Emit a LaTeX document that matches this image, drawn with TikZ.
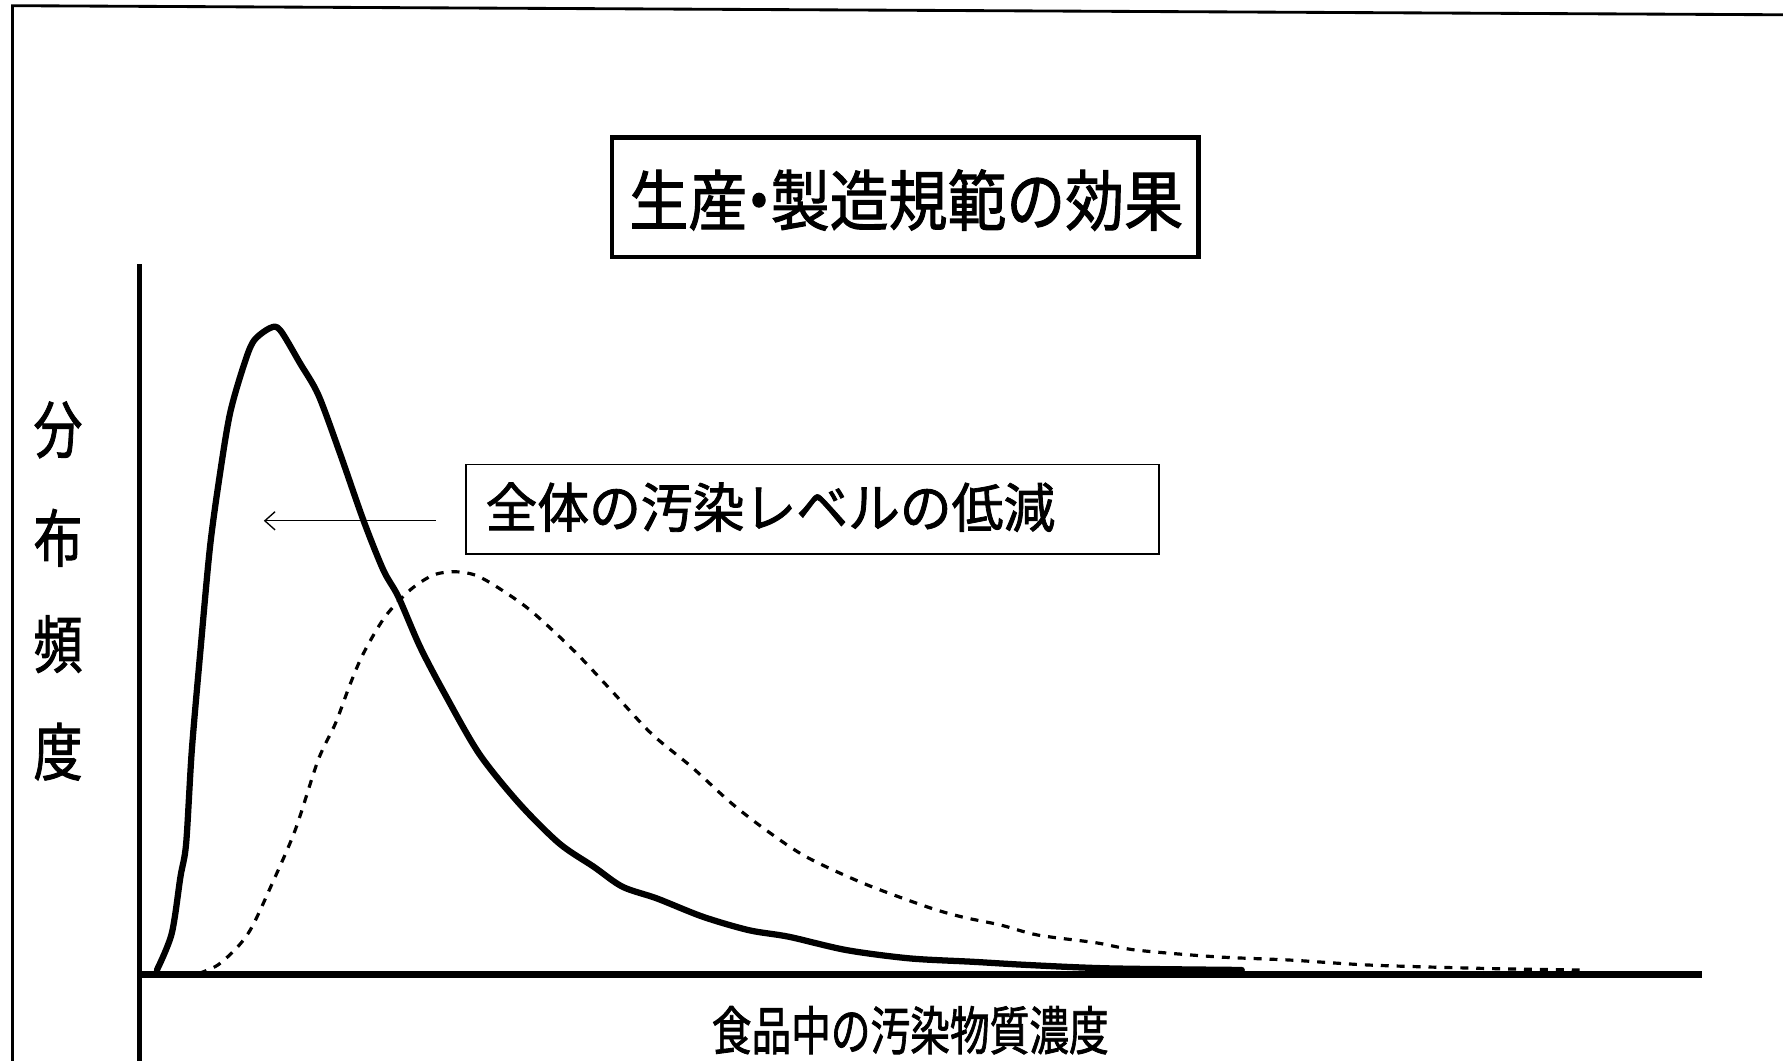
\documentclass[tikz,border=0pt]{standalone}
\usepackage{graphicx}
\usepackage{fontspec}
\setmainfont{Noto Sans CJK JP}[AutoFakeBold=1.6]
\usetikzlibrary{arrows.meta}
\newcommand{\fitw}[2]{\resizebox{#1}{\height}{#2}}
\begin{document}
\begin{tikzpicture}[x=1pt,y=-1pt,
  every node/.style={inner sep=0pt, outer sep=0pt},
  titlebox/.style={draw, line width=4pt, minimum width=516pt, minimum height=105pt},
  notebox/.style={draw, line width=1.5pt, minimum width=610pt, minimum height=79pt},
  framel/.style={line width=2.5pt},
  solidcurve/.style={line width=5.5pt, line cap=round, line join=round},
  dashcurve/.style={line width=2.8pt, dash pattern=on 7pt off 7pt},
  ylab/.style={font=\fontsize{55pt}{60pt}\selectfont\bfseries}
]
\useasboundingbox (0,0) rectangle (1568,933);
\fill[white] (0,0) rectangle (1568,933);
% frame
\coordinate (fbl) at (11,933);
\coordinate (ftl) at (11,5);
\coordinate (ftr) at (1568,13);
\draw[framel] (fbl) -- (ftl) -- (ftr);
% title
\node[titlebox] (title) at (796,173.5) {};
\node[font=\fontsize{58pt}{62pt}\selectfont\bfseries] (titletext) at (797,176) {\fitw{487pt}{生産\makebox[0.4em][c]{・}製造規範の効果}};
% axes
\coordinate (o) at (123,857);
\coordinate (ytop) at (123,232);
\coordinate (ybot) at (123,933);
\coordinate (xend) at (1497,857);
\draw[line width=4.5pt] (ybot) -- (ytop);
\draw[line width=6pt] (o) -- (xend);
% y label
\node[ylab] (y1) at (51,378) {\fitw{43pt}{分}};
\node[ylab] (y2) at (51,473) {\fitw{43pt}{布}};
\node[ylab] (y3) at (51,566.5) {\fitw{43pt}{頻}};
\node[ylab] (y4) at (51,661) {\fitw{43pt}{度}};
% x label
\node[font=\fontsize{46pt}{50pt}\selectfont\bfseries] (xlab) at (800.5,906) {\fitw{349pt}{食品中の汚染物質濃度}};
% annotation
\node[notebox] (note) at (714.5,448) {};
\node[font=\fontsize{47pt}{50pt}\selectfont\bfseries] (notetext) at (677.5,446) {\fitw{501pt}{全体の汚染レベルの低減}};
\coordinate (arrs) at (383,458);
\coordinate (arre) at (232,458);
\draw[line width=1.2pt, -{Straight Barb[length=9pt,width=16pt,line width=1.2pt]}] (arrs) -- (arre);
% dashed curve
\draw[dashcurve] plot[smooth, tension=0.5] coordinates {
(175,856) (191.5,848.7) (209.1,832.6) (221.7,815) (239.4,776.9) (259.6,730) (279.8,668.4) (295,636.2) (307.8,602) (319.6,574.6) (338.6,542.4) (360.6,518.9) (381.1,505.7) (400.2,502.8) (417.8,505.7) (436.8,516) (466.1,536.5) (504.2,571.7) (537.3,606.9) (572.7,645) (608,674.3) (643.4,706.5) (673.7,730) (709,753.5) (759.5,776.9) (815,797.4) (845.3,806.2) (880,813.5) (912.7,822.3) (964,829.1) (999.1,835.5) (1069.2,841.4) (1134.6,844.3) (1204.7,848.7) (1302.9,851.6) (1391.6,853.1)};
% solid curve
\draw[solidcurve] plot[smooth, tension=0.5] coordinates {
(138,853) (151,821) (158.7,771) (163.7,741.7) (168.7,659.6) (176.3,571.7) (184.7,480.8) (193.5,416.3) (202.3,363.5) (214,322.5) (223,300) (237.5,288.5) (246.3,290.2) (263.9,319.5) (280,347.4) (299,398.7) (319.5,457.3) (337.1,501.3) (350.3,524.8) (369.4,568.8) (390.9,609.8) (421.2,662.6) (456.5,706.5) (491.8,741.7) (522.1,762.2) (547.4,779.8) (577.7,790.1) (618.1,806.2) (658.5,818) (693.8,823.8) (744.3,835.5) (799.8,842.8) (855.4,845.8) (905.6,848.7) (975.7,851.6) (1092,853)};
\end{tikzpicture}
\end{document}
